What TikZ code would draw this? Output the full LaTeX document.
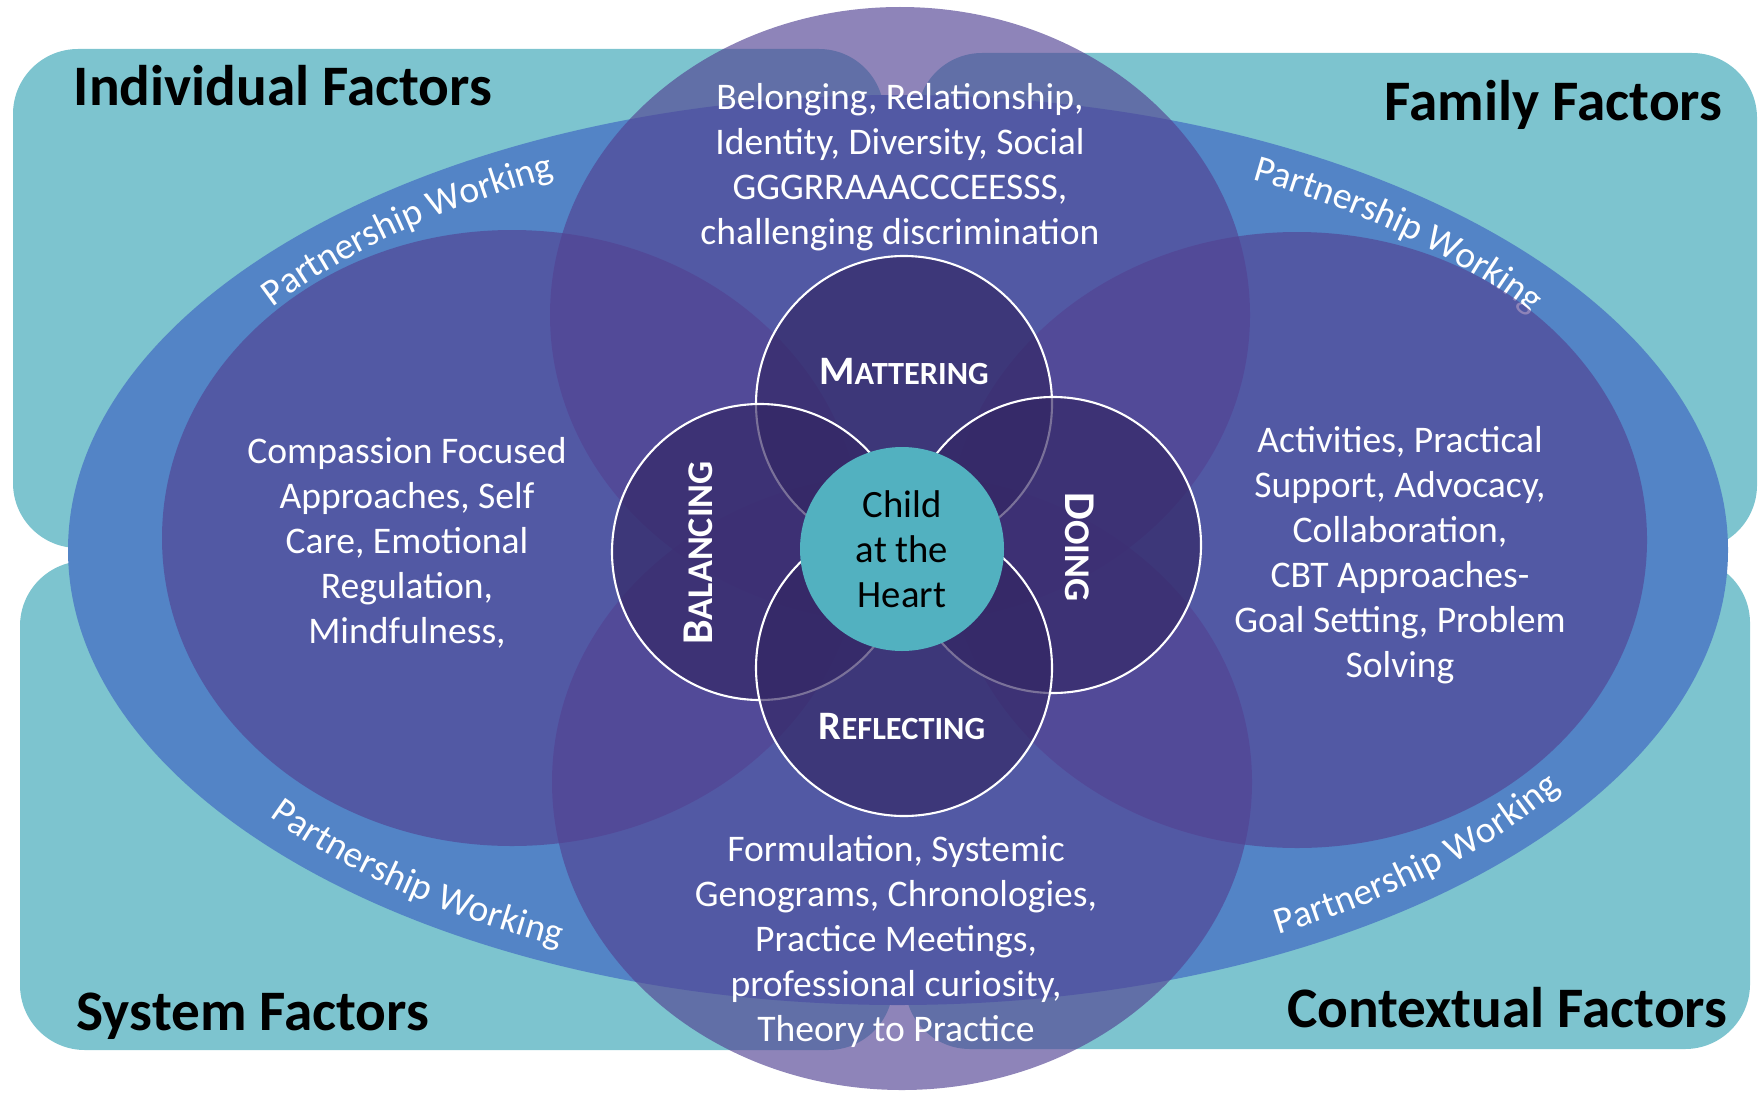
\documentclass[tikz,border=0pt]{standalone}
\usepackage{fontspec}
\setmainfont{Carlito}
\usetikzlibrary{decorations.text}

\definecolor{factorteal}{RGB}{125,196,207}
\definecolor{ringblue}{RGB}{83,132,198}
\definecolor{areapurple}{RGB}{82,66,147}
\definecolor{petalpurple}{RGB}{51,38,99}
\definecolor{heartteal}{RGB}{82,177,192}

\tikzset{
  factor/.style={fill=factorteal, rounded corners=6.5mm},
  area/.style={fill=areapurple, fill opacity=0.65},
  petal/.style={fill=petalpurple, fill opacity=0.65, draw=white, line width=0.6pt},
  heart/.style={circle, fill=heartteal, minimum size=20.4mm, inner sep=0pt,
    align=center, text=black, font=\fontsize{11}{12.8}\selectfont},
  body/.style={text=white, align=center, inner sep=0pt, font=\fontsize{10.7}{12.8}\selectfont},
  heading/.style={text=black, inner sep=0pt, font=\bfseries\fontsize{16.3}{19}\selectfont},
  petallabel/.style={text=white, inner sep=0pt, font=\bfseries}
}

\begin{document}
\begin{tikzpicture}[x=0.1mm, y=0.1mm]
    \useasboundingbox (0,0) rectangle (1760,1092);

    %factor boxes
    \foreach \xa/\ya/\xb/\yb in {13/544/884/1043, 917/542/1757/1039, 20/42/893/531, 905/43/1750/534}
        \fill[factor] (\xa,\ya) rectangle (\xb,\yb);

    %ring
    \coordinate (ringmid) at (898,542);
    \fill[ringblue] (ringmid) ellipse (830 and 455);
    \foreach \s/\e in {157/107, 72/22, 204/254, 290/340}
        \path[decorate, decoration={text along path, text align=center, raise=-3pt,
            text color=white, text={|\fontsize{10.7}{12.8}\selectfont|Partnership Working}}]
            (ringmid) ++(\s:780 and 428) arc[start angle=\s, end angle=\e, x radius=780, y radius=428];

    %areas
    \foreach \x/\y in {900/777, 902/310, 512/554, 1297/552}
        \fill[area] (\x,\y) ellipse (350 and 308);

    %petals
    \foreach \x/\y in {904/688, 760/540, 1053/547, 904/424}
        \draw[petal] (\x,\y) circle (148);
    \node[heart] (heart) at (902,543) {Child\\at the\\Heart};

    \node[petallabel] (mattering) at (904,721)
        {{\fontsize{11.5}{13}\selectfont M}{\fontsize{9.2}{11}\selectfont ATTERING}};
    \node[petallabel] (reflecting) at (902,366)
        {{\fontsize{11.5}{13}\selectfont R}{\fontsize{9.2}{11}\selectfont EFLECTING}};
    \node[petallabel, rotate=90] (balancing) at (698,539)
        {{\fontsize{12.5}{14}\selectfont B}{\fontsize{10.3}{12}\selectfont ALANCING}};
    \node[petallabel, rotate=-90] (doing) at (1080,545)
        {{\fontsize{12.5}{14}\selectfont D}{\fontsize{10.3}{12}\selectfont OING}};

    %texts
    \node[body] (belonging) at (900,925)
        {Belonging, Relationship,\\Identity, Diversity, Social\\GGGRRAAACCCEESSS,\\challenging discrimination};
    \node[body] (compassion) at (407,549)
        {Compassion Focused\\Approaches, Self\\Care, Emotional\\Regulation,\\Mindfulness,};
    \node[body] (activities) at (1400,537)
        {Activities, Practical\\Support, Advocacy,\\Collaboration,\\CBT Approaches-\\Goal Setting, Problem\\Solving};
    \node[body] (formulation) at (896,151)
        {Formulation, Systemic\\Genograms, Chronologies,\\Practice Meetings,\\professional curiosity,\\Theory to Practice};

    \node[heading, anchor=base west] (individual) at (73,987) {Individual Factors};
    \node[heading, anchor=base east] (family) at (1723,971) {Family Factors};
    \node[heading, anchor=base west] (system) at (76,62) {System Factors};
    \node[heading, anchor=base east] (contextual) at (1728,65) {Contextual Factors};
\end{tikzpicture}
\end{document}
